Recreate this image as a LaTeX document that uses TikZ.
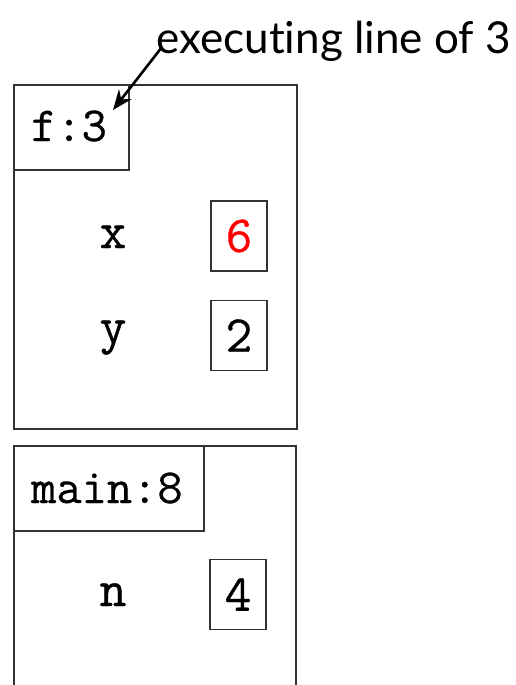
\documentclass[tikz,border=0pt]{standalone}
\usepackage{fontspec}
\setmonofont[FakeBold=0.6]{Latin Modern Mono}
\newfontfamily\labelfont[Ligatures=NoCommon]{Lato}
\usetikzlibrary{arrows.meta}
\begin{document}
\begin{tikzpicture}[x=1pt,y=-1pt,
  frame/.style={draw=black!80, line width=1.3pt},
  valbox/.style={draw=black!80, line width=1.3pt, minimum width=56pt, minimum height=70pt, inner sep=0pt, font=\fontsize{52}{62}\selectfont\ttfamily},
  varname/.style={inner sep=0pt, anchor=base, font=\fontsize{52}{62}\selectfont\ttfamily},
  headtext/.style={inner sep=0pt, anchor=base west, font=\fontsize{49}{59}\selectfont\ttfamily}]
\useasboundingbox (0,0) rectangle (515,685);
% f frame
\draw[frame] (14,85) rectangle (297,429);
\draw[frame] (14,85) rectangle (129,170);
\node[headtext] (fhead) at (31,141) {f:3};
\node[varname] (xn) at (113,248) {x};
\node[valbox, text=red] (xv) at (239,236) {6};
\node[varname] (yn) at (113,343) {y};
\node[valbox] (yv) at (239,335.5) {2};
% main frame
\draw[frame] (14,446) -- (296,446) -- (296,690);
\draw[frame] (14,690) -- (14,446);
\draw[frame] (14,446) rectangle (204,531);
\node[headtext] (mhead) at (31,503) {main:8};
\node[varname] (nn) at (113,606) {n};
\node[valbox] (nv) at (238,594.5) {4};
% annotation
\node[inner sep=0pt, anchor=base east, font=\fontsize{44}{53}\selectfont\labelfont] (lbl) at (511,53) {executing line of 3};
\coordinate (tip) at (113,110);
\draw[line width=2.6pt, -{Stealth[length=20pt,width=16pt]}] (162,47) -- (tip);
\end{tikzpicture}
\end{document}
